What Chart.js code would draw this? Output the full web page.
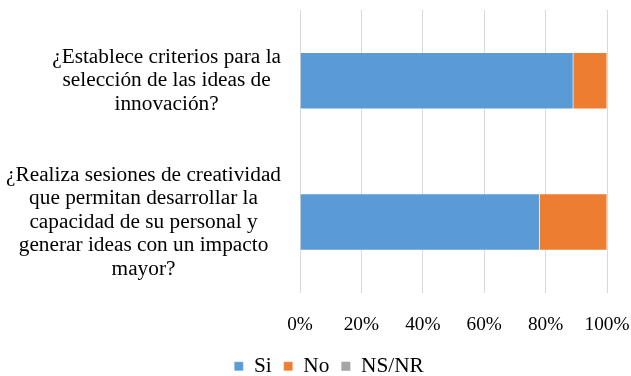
<!DOCTYPE html>
<html>
<head>
<meta charset="utf-8">
<script src="https://cdn.jsdelivr.net/npm/chart.js@4/dist/chart.umd.min.js"></script>
<style>
html,body{margin:0;padding:0;background:#fff;}
#wrap{width:631px;height:376px;}
</style>
</head>
<body>
<div id="wrap"><canvas id="c" width="631" height="376"></canvas></div>
<script>
const categories = [
  ["¿Establece criterios para la", "selección de las ideas de", "innovación?"],
  ["¿Realiza sesiones de creatividad", "que permitan desarrollar la", "capacidad de su personal y", "generar ideas con un impacto", "mayor?"]
];
const siValues = [89, 78];
const noValues = [11, 22];
const nsnrValues = [0, 0];
const xTicks = [0, 20, 40, 60, 80, 100];

const FONT = "'Liberation Serif', 'Times New Roman', serif";
const FS = 21.3;
const TFS = 19.3;
const LH = 23.5;

const yLabelPlugin = {
  id: 'yLabels',
  afterDraw(chart) {
    const ctx = chart.ctx;
    const y = chart.scales.y;
    const right = y.right - 19;
    ctx.save();
    ctx.font = FS + "px " + FONT;
    ctx.fillStyle = '#000';
    ctx.textAlign = 'center';
    ctx.textBaseline = 'middle';
    categories.forEach((lines, i) => {
      const cy = y.getPixelForValue(i);
      const maxW = Math.max(...lines.map(l => ctx.measureText(l).width));
      const cx = right - maxW / 2;
      const n = lines.length;
      lines.forEach((l, k) => {
        ctx.fillText(l, cx, cy + (k - (n - 1) / 2) * LH);
      });
    });
    ctx.restore();
  }
};

const legendShift = {
  id: 'legendShift',
  afterLayout(chart) {
    const lg = chart.legend;
    if (!lg) return;
    const dx = 329 - (lg.left + lg.right) / 2;
    const dy = 13;
    lg.left += dx; lg.right += dx;
    lg.top += dy; lg.bottom += dy;
  }
};

new Chart(document.getElementById('c'), {
  type: 'bar',
  data: {
    labels: categories,
    datasets: [
      {label: 'Si', data: siValues, backgroundColor: '#5B9BD5', borderColor: 'rgba(255,255,255,0.5)', borderWidth: 0.5},
      {label: 'No', data: noValues, backgroundColor: '#ED7D31', borderColor: 'rgba(255,255,255,0.5)', borderWidth: 0.5},
      {label: 'NS/NR', data: nsnrValues, backgroundColor: '#A5A5A5', borderWidth: 0}
    ]
  },
  options: {
    indexAxis: 'y',
    responsive: false,
    animation: false,
    devicePixelRatio: 1,
    layout: {padding: {left: 0, right: 24, top: 10, bottom: 2}},
    datasets: {bar: {categoryPercentage: 1.0, barPercentage: 0.4}},
    scales: {
      x: {
        stacked: true,
        min: 0, max: 100,
        afterBuildTicks(scale) { scale.ticks = xTicks.map(v => ({value: v})); },
        grid: {color: '#d9d9d9', lineWidth: 1, drawTicks: false},
        border: {display: false},
        ticks: {
          padding: 21,
          color: '#000',
          font: {family: FONT, size: TFS},
          callback: v => v + '%'
        },
        afterFit(scale) { scale.height = 38; scale.paddingRight = 0; scale.paddingLeft = 0; }
      },
      y: {
        stacked: true,
        grid: {display: false},
        border: {display: false},
        ticks: {display: false},
        afterFit(scale) { scale.width = 300; }
      }
    },
    plugins: {
      legend: {
        position: 'bottom',
        labels: {
          boxWidth: 9, boxHeight: 9,
          padding: 12,
          color: '#000',
          font: {family: FONT, size: FS}
        }
      },
      tooltip: {enabled: false}
    }
  },
  plugins: [yLabelPlugin, legendShift]
});
</script>
</body>
</html>
